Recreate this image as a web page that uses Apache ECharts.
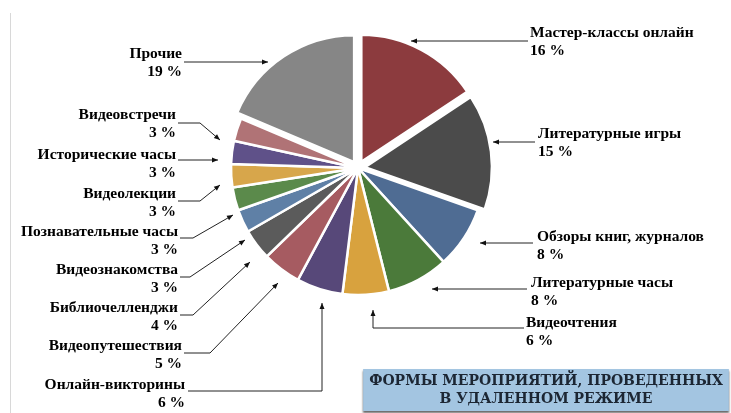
<!DOCTYPE html>
<html>
<head>
<meta charset="utf-8">
<script src="https://cdn.jsdelivr.net/npm/echarts@6/dist/echarts.min.js"></script>
<style>
  html, body { margin: 0; padding: 0; background: #fff; }
  #chart { width: 731px; height: 413px; }
</style>
</head>
<body>
<div id="chart"></div>
<script>
const categories = [
  'Мастер-классы онлайн', 'Литературные игры', 'Обзоры книг, журналов', 'Литературные часы',
  'Видеочтения', 'Онлайн-викторины', 'Видеопутешествия', 'Библиочелленджи',
  'Видеознакомства', 'Познавательные часы', 'Видеолекции', 'Исторические часы',
  'Видеовстречи', 'Прочие'
];
const values = [16, 15, 8, 8, 6, 6, 5, 4, 3, 3, 3, 3, 3, 19];
const titleLines = ['ФОРМЫ МЕРОПРИЯТИЙ, ПРОВЕДЕННЫХ', 'В УДАЛЕННОМ РЕЖИМЕ'];

// styling / layout (not data)
const colors = ['#8c3b3e', '#4b4b4b', '#4f6c93', '#4b7a3a', '#d8a23e', '#574879', '#a65b61',
  '#5b5b5b', '#5f80a6', '#5b8a4b', '#d7a64b', '#5f5189', '#b07376', '#868686'];
const exploded = [0, 1, 13];
// label anchor: x, centre y, align, line points (slice -> elbow -> text)
const labelPos = [
  [530, 42, 'left',  [[411, 41], [470, 41], [528, 41]]],
  [538, 143, 'left', [[493, 142], [515, 142], [535, 142]]],
  [537, 246, 'left', [[480, 243], [505, 243], [533, 243]]],
  [531, 292, 'left', [[432, 289], [480, 289], [527, 289]]],
  [526, 332, 'left', [[373, 310], [373, 328], [524, 328]]],
  [185, 394, 'right', [[322, 303], [322, 391], [188, 391]]],
  [182, 355, 'right', [[278, 283], [210, 353], [184, 353]]],
  [178, 317, 'right', [[250, 262], [193, 315], [180, 315]]],
  [178, 279, 'right', [[245, 240], [190, 277], [180, 277]]],
  [178, 241, 'right', [[233, 215], [193, 238], [180, 238]]],
  [176, 203, 'right', [[220, 185], [200, 201], [178, 201]]],
  [176, 164, 'right', [[218, 160], [198, 160], [178, 160]]],
  [176, 124, 'right', [[220, 140], [200, 123], [178, 123]]],
  [182, 63, 'right', [[268, 62], [225, 62], [184, 62]]]
];

// small arrow heads at the slice end of each leader line
const arrows = labelPos.map(function (p) {
  const tip = p[3][0], prev = p[3][1];
  const a = Math.atan2(tip[1] - prev[1], tip[0] - prev[0]);
  const L = 6, W = 2.5;
  const bx = tip[0] - L * Math.cos(a), by = tip[1] - L * Math.sin(a);
  return {
    type: 'polygon',
    shape: { points: [tip,
      [bx + W * Math.sin(a), by - W * Math.cos(a)],
      [bx - W * Math.sin(a), by + W * Math.cos(a)]] },
    style: { fill: '#111' },
    z: 10
  };
});
// thin frame edge on the left
arrows.push({
  type: 'line',
  shape: { x1: 10.5, y1: 13, x2: 10.5, y2: 413 },
  style: { stroke: '#d8d8d8', lineWidth: 1 }
});

const pieBase = {
  type: 'pie',
  center: [358, 168],
  radius: [0, 127],
  startAngle: 90,
  clockwise: true,
  avoidLabelOverlap: false,
  emphasis: { disabled: true }
};

const chart = echarts.init(document.getElementById('chart'));

chart.setOption({
  backgroundColor: '#fff',
  animation: false,
  title: {
    text: titleLines.join('\n'),
    left: 540,
    top: 369,
    textAlign: 'center',
    padding: [3, 6, 3, 6],
    backgroundColor: '#a3c5e1',
    shadowColor: 'rgba(0,0,0,0.6)',
    shadowOffsetY: 2,
    shadowBlur: 2,
    textStyle: {
      fontFamily: 'DejaVu Serif',
      fontWeight: 'bold',
      fontSize: 14,
      lineHeight: 18,
      color: '#1c2633'
    }
  },
  graphic: arrows,
  series: [
    // slices (a few pulled out)
    Object.assign({}, pieBase, {
      selectedMode: 'multiple',
      selectedOffset: 7,
      itemStyle: { borderColor: '#fff', borderWidth: 2.5 },
      label: { show: false },
      labelLine: { show: false },
      data: categories.map(function (name, i) {
        return {
          name: name,
          value: values[i],
          selected: exploded.indexOf(i) >= 0,
          itemStyle: { color: colors[i] }
        };
      })
    }),
    // labels with leader lines
    Object.assign({}, pieBase, {
      silent: true,
      itemStyle: { color: 'rgba(0,0,0,0)' },
      data: categories.map(function (name, i) {
        return { name: name, value: values[i] };
      }),
      label: {
        show: true,
        formatter: '{b}\n{c} %',
        fontFamily: 'Liberation Serif',
        fontWeight: 700,
        fontSize: 15.5,
        lineHeight: 18,
        color: '#000'
      },
      labelLine: { show: true, lineStyle: { color: '#222', width: 1 } },
      labelLayout: function (params) {
        const p = labelPos[params.dataIndex];
        return {
          x: p[0],
          y: p[1],
          align: p[2],
          verticalAlign: 'middle',
          labelLinePoints: p[3]
        };
      }
    })
  ]
});
</script>
</body>
</html>
